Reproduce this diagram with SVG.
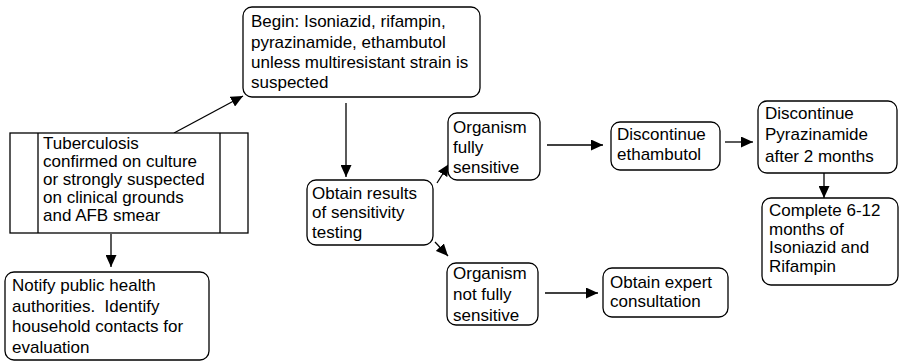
<svg xmlns="http://www.w3.org/2000/svg" width="899" height="361" viewBox="0 0 899 361">
  <style>
    .box { fill: #fff; stroke: #000; stroke-width: 1.3; }
    .line { fill: none; stroke: #000; stroke-width: 1.3; }
    .edge { fill: none; stroke: #000; stroke-width: 1.3; marker-end: url(#arrow); }
    text { font-family: "Liberation Sans", Arial, sans-serif; font-size: 17px; fill: #000; white-space: pre; }
  </style>
  <defs>
    <marker id="arrow" markerUnits="userSpaceOnUse" markerWidth="12" markerHeight="11" refX="12" refY="5.5" orient="auto">
      <path d="M0,0 L12,5.5 L0,11 z" fill="#000"/>
    </marker>
  </defs>
  <rect width="899" height="361" fill="#fff"/>

  <!-- connectors -->
  <g id="connectors">
    <line class="edge" x1="174" y1="133" x2="243" y2="96"/>
    <line class="edge" x1="111" y1="234" x2="111" y2="267"/>
    <line class="edge" x1="346" y1="103" x2="346" y2="177"/>
    <line class="edge" x1="437" y1="183" x2="449" y2="164"/>
    <line class="edge" x1="435" y1="242" x2="448" y2="256"/>
    <line class="edge" x1="547" y1="145" x2="603" y2="145"/>
    <line class="edge" x1="725" y1="142" x2="753" y2="142"/>
    <line class="edge" x1="824" y1="173" x2="824" y2="198"/>
    <line class="edge" x1="545" y1="293" x2="598" y2="293"/>
  </g>

  <!-- start: predefined-process box -->
  <g id="tuberculosis">
    <rect class="box" x="10" y="133" width="238" height="100"/>
    <line class="line" x1="38" y1="133" x2="38" y2="233"/>
    <line class="line" x1="220" y1="133" x2="220" y2="233"/>
    <text x="43" y="149">Tuberculosis</text>
    <text x="43" y="167">confirmed on culture</text>
    <text x="43" y="185">or strongly suspected</text>
    <text x="43" y="203">on clinical grounds</text>
    <text x="43" y="221">and AFB smear</text>
  </g>

  <g id="begin">
    <rect class="box" x="243" y="7" width="237" height="90" rx="9"/>
    <text x="251" y="27">Begin: Isoniazid, rifampin,</text>
    <text x="251" y="47.5">pyrazinamide, ethambutol</text>
    <text x="251" y="68">unless multiresistant strain is</text>
    <text x="251" y="88">suspected</text>
  </g>

  <g id="notify">
    <rect class="box" x="5" y="272" width="204" height="88" rx="9"/>
    <text x="12" y="291">Notify public health</text>
    <text x="12" y="312">authorities.&#160; Identify</text>
    <text x="12" y="332">household contacts for</text>
    <text x="12" y="353">evaluation</text>
  </g>

  <g id="obtain-results">
    <rect class="box" x="307" y="180" width="126" height="65" rx="9"/>
    <text x="312" y="199">Obtain results</text>
    <text x="312" y="218">of sensitivity</text>
    <text x="312" y="238">testing</text>
  </g>

  <g id="organism-sensitive">
    <rect class="box" x="448" y="113" width="92" height="67" rx="9"/>
    <text x="453" y="133">Organism</text>
    <text x="453" y="153">fully</text>
    <text x="453" y="173">sensitive</text>
  </g>

  <g id="discontinue-ethambutol">
    <rect class="box" x="611" y="122" width="109" height="48" rx="9"/>
    <text x="617" y="140">Discontinue</text>
    <text x="617" y="160">ethambutol</text>
  </g>

  <g id="discontinue-pyrazinamide">
    <rect class="box" x="758" y="101" width="139" height="72" rx="9"/>
    <text x="765" y="119">Discontinue</text>
    <text x="765" y="140">Pyrazinamide</text>
    <text x="765" y="162">after 2 months</text>
  </g>

  <g id="complete">
    <rect class="box" x="762" y="198" width="136" height="87" rx="9"/>
    <text x="769" y="216">Complete 6-12</text>
    <text x="769" y="235">months of</text>
    <text x="769" y="253">Isoniazid and</text>
    <text x="769" y="272">Rifampin</text>
  </g>

  <g id="organism-not-sensitive">
    <rect class="box" x="447" y="263" width="91" height="62" rx="9"/>
    <text x="453" y="279">Organism</text>
    <text x="453" y="300">not fully</text>
    <text x="453" y="321">sensitive</text>
  </g>

  <g id="expert">
    <rect class="box" x="603" y="268" width="125" height="49" rx="9"/>
    <text x="610" y="288">Obtain expert</text>
    <text x="610" y="307">consultation</text>
  </g>
</svg>
